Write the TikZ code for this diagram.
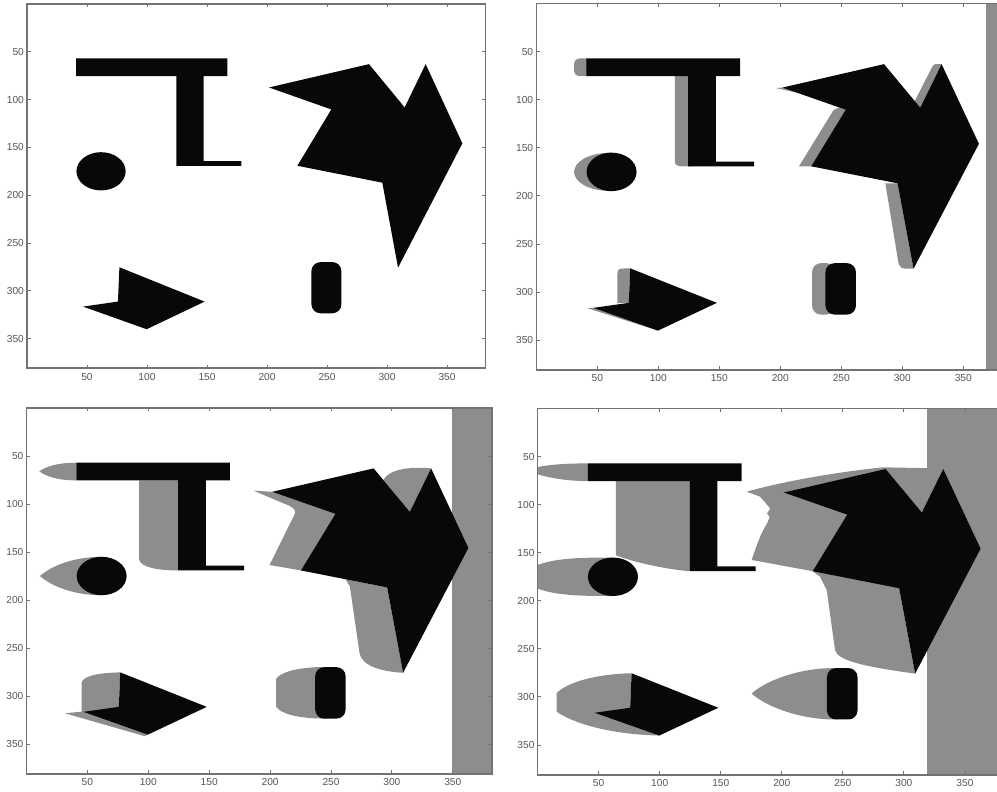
\documentclass[tikz,border=0pt]{standalone}
\usepackage{fontspec}
\setmainfont{Liberation Sans}
\usepackage{tikz}
\definecolor{objblack}{RGB}{8,8,8}
\definecolor{shadegray}{RGB}{141,141,141}
\definecolor{axisgray}{RGB}{115,115,115}
\definecolor{lblgray}{RGB}{85,85,85}
\tikzset{
  obj/.style={fill=objblack},
  shade/.style={fill=shadegray},
  frame/.style={draw=axisgray,line width=0.9pt},
  tickmark/.style={draw=axisgray,line width=0.5pt},
  ticklbl/.style={text=lblgray,font=\fontsize{5.8}{6}\selectfont,inner sep=0pt}
}
% the black obstacles, same in every panel
\newcommand{\drawobjects}{%
  \fill[obj] (41,57) -- (167,57) -- (167,75.4) -- (147.2,75.4) -- (147.2,164.3) -- (178.6,164.3)
    -- (178.6,169.2) -- (124.4,169.2) -- (124.4,75.4) -- (41,75.4) -- cycle;
  \fill[obj] (61.7,175) ellipse [x radius=20.5,y radius=20];
  \fill[obj] (77,275.4) -- (148,311.3) -- (99.7,340.2) -- (46.7,316.5) -- (75.8,311.3) -- cycle;
  \fill[obj,rounded corners=1.8mm] (237,270) rectangle (262,323.5);
  \fill[obj] (201.7,87.3) -- (285,62.9) -- (314.7,108.2) -- (332.2,62.9) -- (362.8,145.8)
    -- (309.2,275.8) -- (296.1,186.9) -- (225.3,169.2) -- (253.6,110.3) -- cycle;
}
% frame, ticks and tick labels
\newcommand{\drawaxes}{%
  \draw[frame] (0,0) rectangle (382,381);
  \foreach \v in {50,100,...,350}{
    \draw[tickmark] (\v,381) -- (\v,377.5);
    \draw[tickmark] (\v,0) -- (\v,3.5);
    \draw[tickmark] (0,\v) -- (3,\v);
    \draw[tickmark] (382,\v) -- (379,\v);
    \node[ticklbl,anchor=north,yshift=-2.6pt] (xl\v) at (\v,381) {\v};
    \node[ticklbl,anchor=east,xshift=-1.6pt] (yl\v) at (0,\v) {\v};
  }
}

\begin{document}
\begin{tikzpicture}[x=0.02cm,y=-0.02cm]
  \useasboundingbox (0,0) rectangle (997,791);
  \clip (0,0) rectangle (997,791);
  \fill[white] (0,0) rectangle (997,791);

  % top left: no shadow
  \begin{scope}[shift={(27,4)},xscale=1.2,yscale=0.956]
    \begin{scope}
      \clip (0,0) rectangle (382,381);
      \drawobjects
    \end{scope}
    \drawaxes
  \end{scope}

  % top right
  \begin{scope}[shift={(536.3,3.7)},xscale=1.22,yscale=0.961]
    \begin{scope}
      \clip (0,0) rectangle (382,381);
      \fill[shade] (369,0) rectangle (382,381);
      \fill[shade,rounded corners=1mm] (31,57) rectangle (45,75.4);
      \fill[shade] (113.5,75.4) -- (113.5,164) .. controls (113.5,168) and (116,169.3) .. (120,169.3)
        -- (128,169.3) -- (128,75.4) -- cycle;
      \fill[shade] (61.7,155) .. controls (42,155) and (31,165) .. (31,175)
        .. controls (31,185) and (42,195) .. (61.7,195) -- cycle;
      \fill[shade] (77,275.4) -- (70,275.6) .. controls (67,276) and (66.5,278) .. (66.5,281)
        -- (66.5,311.5) -- (75.8,311.3) -- cycle;
      \fill[shade] (46.7,316.5) -- (41.8,316.8) -- (99.7,340.2) -- cycle;
      \fill[shade,rounded corners=1.8mm] (226,270) rectangle (245,323.5);
      \fill[shade] (201.7,87.3) -- (196.5,87.8) -- (215,93) -- cycle;
      \fill[shade] (248,108) -- (243.6,110.8) -- (215.3,169.2) -- (225.3,169.2) -- (253.6,110.3) -- cycle;
      \fill[shade] (296.1,186.9) -- (286.1,186.9) -- (297,271) .. controls (297.5,274) and (300,275.8) .. (303,275.8)
        -- (309.2,275.8) -- cycle;
      \fill[shade] (332.2,62.9) -- (327,62.9) .. controls (326,63) and (325.5,63.5) .. (325,64.5)
        -- (310.2,101.3) -- (314.7,108.2) -- cycle;
      \drawobjects
    \end{scope}
    \drawaxes
  \end{scope}

  % bottom left
  \begin{scope}[shift={(26.5,408)},xscale=1.218,yscale=0.96]
    \begin{scope}
      \clip (0,0) rectangle (382,381);
      \fill[shade] (349,0) rectangle (382,381);
      \fill[shade] (41,57) .. controls (25,57) and (16,61) .. (10.5,66)
        .. controls (16,71) and (25,75.4) .. (41,75.4) -- cycle;
      \fill[shade] (124.4,75.4) -- (92.5,75.4) -- (92.5,158) .. controls (94,166) and (108,169.2) .. (124.4,169.2) -- cycle;
      \fill[shade] (61.7,155) .. controls (38,155) and (20,165) .. (11,175)
        .. controls (20,185) and (38,195) .. (61.7,195) -- cycle;
      \fill[shade] (77,275.4) .. controls (58,276) and (47,279) .. (45.2,286) -- (45.2,316.3)
        -- (31.6,318) -- (97,341.8) -- (99.7,340.2) -- (75.8,311.3) -- cycle;
      \fill[shade] (245,270) -- (238,270) .. controls (220,271) and (208,276) .. (205,282) -- (205,311)
        .. controls (208,318) and (222,323.5) .. (245,323.5) -- cycle;
      \fill[shade] (201.7,87.3) -- (186.5,86.1) -- (216,102) .. controls (220,104.5) and (221.5,107.5) .. (220,111)
        -- (199.6,163.5) -- (225.3,169.2) -- (253.6,110.3) -- cycle;
      \fill[shade] (293,75) .. controls (297,65) and (312,60.5) .. (332.2,62.9) -- (314.7,108.2) -- cycle;
      \fill[shade] (262,178.4) -- (265.5,186) -- (273.4,255) .. controls (275,268) and (290,274.5) .. (309.2,275.8)
        -- (296.1,186.9) -- cycle;
      \drawobjects
    \end{scope}
    \drawaxes
  \end{scope}

  % bottom right
  \begin{scope}[shift={(537.6,408.6)},xscale=1.221,yscale=0.961]
    \begin{scope}
      \clip (0,0) rectangle (382,381);
      \fill[shade] (318.7,0) rectangle (382,381);
      \fill[shade] (41,57) .. controls (20,57) and (0,59) .. (-8,64)
        .. controls (0,70) and (20,75.4) .. (41,75.4) -- cycle;
      \fill[shade] (124.4,75.4) -- (64.2,75.4) -- (64.2,152.7) .. controls (75,158) and (100,166.5) .. (124.4,169.2) -- cycle;
      \fill[shade] (61.7,155) .. controls (30,155) and (0,155) .. (-16,175)
        .. controls (0,195) and (30,195) .. (61.7,195) -- cycle;
      \fill[shade] (77,275.4) .. controls (50,276) and (25,284) .. (15.6,296) -- (15.6,315.4)
        .. controls (30,328) and (60,339) .. (99.7,340.2) -- (75.8,311.3) -- cycle;
      \fill[shade] (245,270) -- (240,270) .. controls (210,271) and (185,285) .. (175.3,296.5)
        .. controls (185,308) and (210,322) .. (240,323.5) -- (245,323.5) -- cycle;
      \fill[shade] (171.2,86.5) .. controls (200,76) and (245,66) .. (283,61.1) -- (320,62) -- (320,150)
        -- (296.1,186.9) -- (309.2,275.8) .. controls (265,268) and (246,262) .. (243.6,251.2)
        -- (236.8,188.8) -- (231.3,174.9) -- (225.3,169.2) -- (175.3,157.5) -- (179,144) -- (183,131)
        -- (185,126) -- (188.5,118) -- (190,113) -- (188,109) -- (190.5,104) -- (186,97) -- (182,91.5) -- cycle;
      \drawobjects
    \end{scope}
    \drawaxes
  \end{scope}
\end{tikzpicture}
\end{document}
